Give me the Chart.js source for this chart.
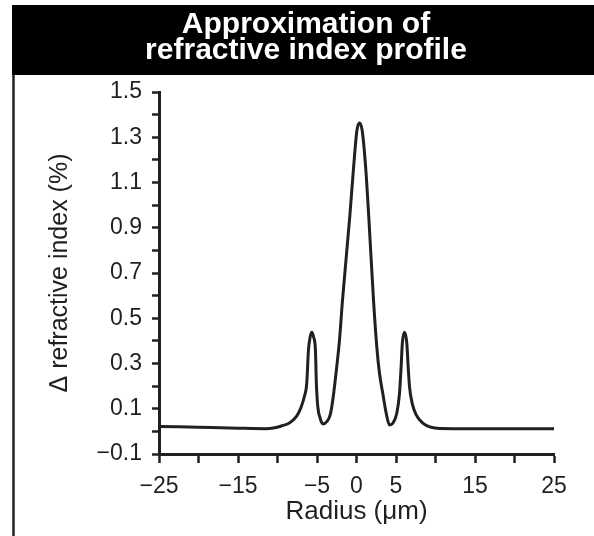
<!DOCTYPE html>
<html>
<head>
<meta charset="utf-8">
<script src="https://cdn.jsdelivr.net/npm/chart.js@4/dist/chart.umd.min.js"></script>
<style>
  html, body { margin: 0; padding: 0; background: #fff; }
  #wrap { width: 594px; height: 536px; position: relative; }
</style>
</head>
<body>
<div id="wrap"><canvas id="chart" width="594" height="536"></canvas></div>
<script>
// radius (µm) and refractive index delta (%)
const radius = [
  -25, -20, -15, -11.5, -10.5, -9.5, -8.5, -7.6, -7.0, -6.6, -6.3, -6.08, -5.86, -5.65, -5.44,
  -5.2, -5.08, -4.9, -4.6, -4.26, -3.76, -3.33, -3.0, -2.5, -2.15, -1.77, -0.85, -0.36, 0.05,
  0.38, 0.72, 1.15, 1.55, 2.15, 2.6, 2.91, 3.33, 3.76, 4.18, 4.6, 5.1, 5.44, 5.65, 5.8,
  6.08, 6.37, 6.54, 6.71, 7.05, 7.56, 8.39, 9.45, 10.5, 15, 20, 25,
];
const deltaIndex = [
  0.022, 0.018, 0.014, 0.012, 0.015, 0.024, 0.037, 0.066, 0.108, 0.154, 0.212, 0.36, 0.418, 0.438, 0.418,
  0.36, 0.213, 0.109, 0.058, 0.033, 0.043, 0.073, 0.139, 0.286, 0.404, 0.581, 0.95, 1.171, 1.33,
  1.363, 1.33, 1.171, 0.95, 0.581, 0.36, 0.257, 0.167, 0.08, 0.028, 0.036, 0.08, 0.167, 0.286, 0.389,
  0.438, 0.389, 0.286, 0.198, 0.124, 0.073, 0.036, 0.018, 0.013, 0.012, 0.012, 0.012,
];

const xTickLabels = [-25, -15, -5, 0, 5, 15, 25];
const yTickLabels = [-0.1, 0.1, 0.3, 0.5, 0.7, 0.9, 1.1, 1.3, 1.5];

const INK = '#231f20';
const TICK_FONT = { family: '"Liberation Sans Narrow", "Liberation Sans", Arial, sans-serif', size: 23 };
const minus = (s) => s.replace('-', '\u2212');

// black title band + left frame rule
const framePlugin = {
  id: 'frame',
  beforeDraw(chart) {
    const { ctx, titleBlock, height, width } = chart;
    const bandBottom = titleBlock.bottom - 17;
    ctx.save();
    ctx.fillStyle = '#000';
    ctx.fillRect(12, titleBlock.top + 1, width - 12, bandBottom - titleBlock.top - 1);
    ctx.strokeStyle = INK;
    ctx.lineWidth = 2.5;
    ctx.beginPath();
    ctx.moveTo(13.5, bandBottom);
    ctx.lineTo(13.5, height);
    ctx.stroke();
    ctx.restore();
  },
};

new Chart(document.getElementById('chart'), {
  type: 'line',
  data: {
    datasets: [
      {
        data: radius.map((r, i) => ({ x: r, y: deltaIndex[i] })),
        borderColor: INK,
        borderWidth: 3,
        pointRadius: 0,
        cubicInterpolationMode: 'monotone',
        fill: false,
      },
    ],
  },
  options: {
    responsive: false,
    animation: false,
    layout: { padding: { top: 4, left: 18, right: 0, bottom: 0 } },
    plugins: {
      legend: { display: false },
      tooltip: { enabled: false },
      title: {
        display: true,
        text: ['Approximation of', 'refractive index profile'],
        color: '#fff',
        font: { family: 'Liberation Sans, Arial, sans-serif', size: 30, weight: 'bold', lineHeight: 0.8667 },
        padding: { top: 8, bottom: 28 },
      },
    },
    scales: {
      x: {
        type: 'linear',
        min: -25,
        max: 25,
        afterFit: (scale) => {
          scale.height = 82;
          scale.paddingRight = 40;
        },
        ticks: {
          stepSize: 5,
          autoSkip: false,
          maxRotation: 0,
          padding: 10,
          color: INK,
          font: TICK_FONT,
          callback: (v) => (xTickLabels.includes(v) ? minus(String(v)) : ''),
        },
        grid: { drawOnChartArea: false, tickLength: 9, tickWidth: 2.5, tickColor: INK },
        border: { width: 3, color: INK },
        title: {
          display: true,
          text: 'Radius (\u03bcm)',
          color: INK,
          font: { family: 'Liberation Sans, Arial, sans-serif', size: 26 },
          padding: { top: 0, bottom: 9 },
        },
      },
      y: {
        min: -0.1,
        max: 1.5,
        afterFit: (scale) => {
          scale.width = 141;
        },
        ticks: {
          stepSize: 0.1,
          autoSkip: false,
          padding: 10,
          color: INK,
          font: TICK_FONT,
          callback: (v) => {
            const k = Math.round(v * 10) / 10;
            return yTickLabels.includes(k) ? minus(k.toFixed(1)) : '';
          },
        },
        grid: { drawOnChartArea: false, tickLength: 7, tickWidth: 2.5, tickColor: INK },
        border: { width: 3, color: INK },
        title: {
          display: true,
          text: '\u0394 refractive index (%)',
          color: INK,
          font: { family: 'Liberation Sans, Arial, sans-serif', size: 25 },
          padding: { top: 27, bottom: 0 },
        },
      },
    },
  },
  plugins: [framePlugin],
});
</script>
</body>
</html>
